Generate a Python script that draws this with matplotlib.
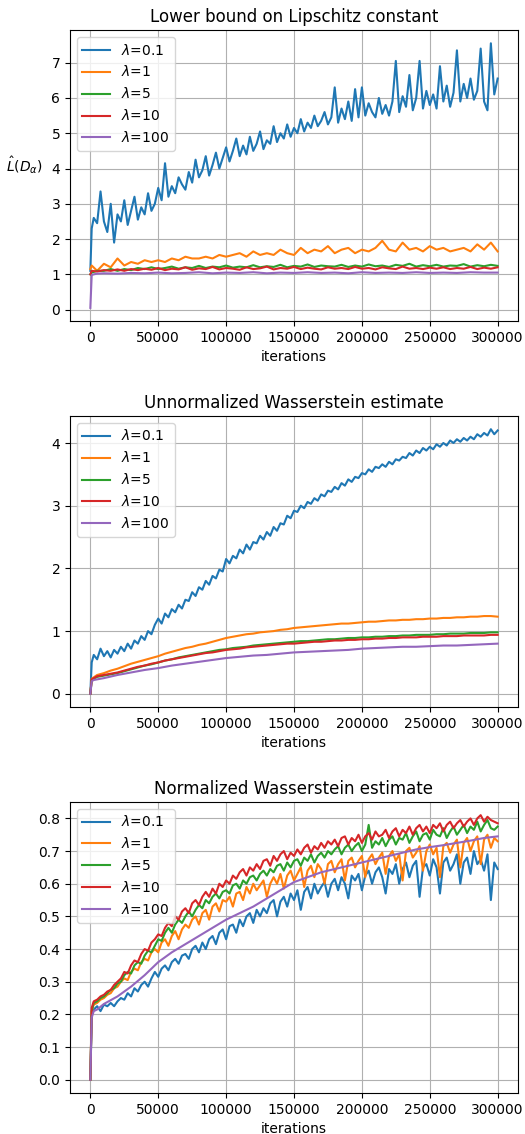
import numpy as np
import matplotlib
matplotlib.use("Agg")
import matplotlib.pyplot as plt

# iteration grids (x values)
it_fine = np.r_[0, 1000, np.arange(2500, 300001, 2500)]
it_mid = np.r_[0, 1000, np.arange(5000, 300001, 5000)]
it_coarse = np.r_[0, 1000, 2500, 5000, np.arange(10000, 300001, 10000)]

labels = [r'$\lambda$=0.1', r'$\lambda$=1', r'$\lambda$=5', r'$\lambda$=10', r'$\lambda$=100']

# --- Lower bound on Lipschitz constant ---
lip_01 = [1.1, 2.3, 2.6, 2.45, 3.35, 2.5, 2.2, 3.0, 1.9, 2.7,
          2.5, 3.1, 2.4, 2.8, 3.2, 2.55, 2.9, 2.7, 3.3, 2.8,
          3.0, 3.45, 3.1, 4.15, 3.2, 3.5, 3.3, 3.75, 3.55, 3.4,
          3.9, 3.6, 4.25, 3.75, 3.95, 4.35, 3.8, 4.1, 4.45, 4.0,
          4.3, 4.6, 4.2, 4.5, 4.85, 4.35, 4.65, 4.4, 4.9, 4.5,
          4.7, 5.05, 4.55, 4.8, 4.7, 5.2, 4.75, 5.0, 4.85, 5.25,
          4.9, 5.15, 5.0, 5.4, 5.05, 5.3, 5.15, 5.5, 5.2, 5.35,
          5.6, 5.25, 5.45, 6.3, 5.3, 5.7, 5.4, 5.9, 5.35, 6.25,
          5.45, 6.3, 5.5, 5.85, 5.6, 5.45, 6.0, 5.55, 5.8, 5.5,
          5.9, 7.05, 5.6, 6.05, 5.75, 6.65, 5.65, 6.0, 7.05, 5.7,
          6.2, 5.8, 6.1, 5.7, 6.9, 5.9, 6.35, 5.75, 6.15, 7.35,
          5.9, 6.4, 6.0, 6.55, 5.95, 6.2, 7.4, 5.9, 5.65, 7.55,
          6.1, 6.55]
lip_1 = [1.15, 1.25, 1.1, 1.3, 1.2, 1.45, 1.25, 1.35, 1.3, 1.4,
         1.35, 1.4, 1.35, 1.45, 1.4, 1.5, 1.45, 1.45, 1.5, 1.45,
         1.55, 1.5, 1.55, 1.6, 1.5, 1.65, 1.55, 1.6, 1.55, 1.7,
         1.6, 1.55, 1.75, 1.6, 1.7, 1.65, 1.8, 1.6, 1.7, 1.75,
         1.6, 1.7, 1.65, 1.75, 1.95, 1.7, 1.65, 1.9, 1.7, 1.75,
         1.65, 1.8, 1.7, 1.75, 1.65, 1.7, 1.75, 1.65, 1.85, 1.7,
         1.9, 1.65]
lip_5 = [1.0, 1.05, 1.1, 1.1, 1.15, 1.1, 1.15, 1.12, 1.18, 1.15,
         1.2, 1.15, 1.18, 1.22, 1.16, 1.2, 1.18, 1.24, 1.18, 1.22,
         1.2, 1.25, 1.19, 1.22, 1.2, 1.26, 1.2, 1.23, 1.21, 1.27,
         1.2, 1.24, 1.22, 1.28, 1.21, 1.25, 1.23, 1.22, 1.27, 1.21,
         1.25, 1.22, 1.28, 1.23, 1.25, 1.21, 1.27, 1.24, 1.3, 1.22,
         1.26, 1.23, 1.27, 1.22, 1.25, 1.24, 1.29, 1.22, 1.26, 1.23,
         1.27, 1.24]
lip_10 = [1.0, 1.1, 1.08, 1.12, 1.1, 1.14, 1.1, 1.15, 1.12, 1.16,
          1.13, 1.18, 1.12, 1.16, 1.14, 1.2, 1.13, 1.17, 1.15, 1.21,
          1.14, 1.18, 1.16, 1.13, 1.2, 1.15, 1.17, 1.22, 1.14, 1.18,
          1.16, 1.21, 1.15, 1.19, 1.16, 1.14, 1.2, 1.16, 1.18, 1.15,
          1.21, 1.16, 1.18, 1.14, 1.2, 1.17, 1.15, 1.22, 1.16, 1.18,
          1.15, 1.19, 1.16, 1.2, 1.15, 1.18, 1.16, 1.21, 1.15, 1.19,
          1.16, 1.2]
lip_100 = [0.05, 0.98, 1.0, 1.02, 1.03, 1.02, 1.04, 1.03, 1.05, 1.03,
           1.04, 1.06, 1.03, 1.05, 1.04, 1.06, 1.03, 1.05, 1.04, 1.06,
           1.04, 1.05, 1.03, 1.06, 1.04, 1.05, 1.04, 1.06, 1.04, 1.05,
           1.04, 1.06, 1.05, 1.05]

# --- Unnormalized Wasserstein estimate ---
wass_01 = [0.0, 0.5, 0.62, 0.55, 0.72, 0.6, 0.68, 0.58, 0.7, 0.64,
           0.75, 0.68, 0.8, 0.72, 0.85, 0.8, 0.92, 0.86, 1.0, 0.95,
           1.1, 1.2, 1.12, 1.28, 1.22, 1.35, 1.3, 1.42, 1.36, 1.5,
           1.48, 1.62, 1.56, 1.7, 1.66, 1.8, 1.74, 1.88, 1.84, 1.98,
           1.95, 2.15, 2.08, 2.2, 2.16, 2.3, 2.24, 2.38, 2.3, 2.42,
           2.4, 2.52, 2.46, 2.58, 2.52, 2.66, 2.6, 2.72, 2.7, 2.84,
           2.8, 2.92, 2.9, 3.0, 2.96, 3.06, 3.03, 3.12, 3.08, 3.18,
           3.15, 3.24, 3.22, 3.3, 3.26, 3.36, 3.32, 3.42, 3.38, 3.46,
           3.44, 3.52, 3.5, 3.58, 3.54, 3.62, 3.6, 3.66, 3.62, 3.7,
           3.66, 3.74, 3.72, 3.78, 3.76, 3.84, 3.8, 3.88, 3.84, 3.92,
           3.88, 3.94, 3.9, 3.98, 3.94, 4.0, 3.96, 4.04, 4.0, 4.06,
           4.02, 4.08, 4.04, 4.1, 4.06, 4.14, 4.1, 4.16, 4.12, 4.22,
           4.14, 4.2]
wass_1 = [0.0, 0.24, 0.3, 0.33, 0.37, 0.4, 0.44, 0.48, 0.51, 0.54,
          0.57, 0.6, 0.64, 0.67, 0.7, 0.73, 0.75, 0.78, 0.8, 0.83,
          0.86, 0.89, 0.91, 0.93, 0.95, 0.96, 0.98, 0.99, 1.0, 1.02,
          1.03, 1.05, 1.06, 1.07, 1.08, 1.09, 1.1, 1.11, 1.12, 1.12,
          1.13, 1.14, 1.15, 1.15, 1.16, 1.17, 1.17, 1.18, 1.18, 1.19,
          1.19, 1.2, 1.2, 1.21, 1.21, 1.22, 1.22, 1.23, 1.23, 1.24,
          1.24, 1.23]
wass_5 = [0.0, 0.22, 0.27, 0.29, 0.31, 0.33, 0.36, 0.39, 0.42, 0.45,
          0.47, 0.5, 0.53, 0.55, 0.58, 0.6, 0.62, 0.64, 0.66, 0.68,
          0.7, 0.71, 0.73, 0.74, 0.75, 0.77, 0.78, 0.79, 0.8, 0.81,
          0.82, 0.83, 0.84, 0.84, 0.85, 0.86, 0.87, 0.87, 0.88, 0.89,
          0.89, 0.9, 0.9, 0.91, 0.91, 0.92, 0.92, 0.93, 0.93, 0.94,
          0.94, 0.94, 0.95, 0.95, 0.96, 0.96, 0.96, 0.97, 0.97, 0.97,
          0.98, 0.98]
wass_10 = [0.0, 0.23, 0.28, 0.3, 0.32, 0.34, 0.37, 0.4, 0.43, 0.45,
           0.48, 0.5, 0.53, 0.55, 0.57, 0.59, 0.61, 0.63, 0.65, 0.66,
           0.68, 0.7, 0.71, 0.72, 0.74, 0.75, 0.76, 0.77, 0.78, 0.79,
           0.8, 0.8, 0.81, 0.82, 0.83, 0.83, 0.84, 0.85, 0.85, 0.86,
           0.86, 0.87, 0.87, 0.88, 0.88, 0.89, 0.89, 0.9, 0.9, 0.9,
           0.91, 0.91, 0.91, 0.92, 0.92, 0.92, 0.93, 0.93, 0.93, 0.93,
           0.94, 0.94]
wass_100 = [0.0, 0.2, 0.22, 0.23, 0.25, 0.3, 0.34, 0.38, 0.41, 0.45,
            0.48, 0.51, 0.54, 0.57, 0.59, 0.61, 0.62, 0.64, 0.66, 0.67,
            0.68, 0.69, 0.7, 0.72, 0.73, 0.74, 0.75, 0.75, 0.76, 0.77,
            0.77, 0.78, 0.79, 0.8]

# --- Normalized Wasserstein estimate ---
norm_01 = [0.0, 0.2, 0.215, 0.225, 0.21, 0.23, 0.225, 0.235, 0.225, 0.24,
           0.25, 0.245, 0.265, 0.255, 0.28, 0.27, 0.29, 0.3, 0.285, 0.31,
           0.33, 0.315, 0.34, 0.35, 0.335, 0.36, 0.37, 0.355, 0.38, 0.385,
           0.37, 0.4, 0.41, 0.39, 0.42, 0.4, 0.43, 0.44, 0.415, 0.45,
           0.46, 0.43, 0.47, 0.475, 0.45, 0.49, 0.47, 0.5, 0.51, 0.48,
           0.52, 0.5, 0.525, 0.51, 0.54, 0.55, 0.5, 0.545, 0.56, 0.53,
           0.57, 0.55, 0.58, 0.52, 0.575, 0.59, 0.555, 0.6, 0.57, 0.59,
           0.605, 0.56, 0.6, 0.615, 0.58, 0.62, 0.6, 0.555, 0.625, 0.61,
           0.63, 0.58, 0.625, 0.64, 0.6, 0.635, 0.65, 0.62, 0.57, 0.645,
           0.63, 0.66, 0.6, 0.645, 0.665, 0.62, 0.655, 0.67, 0.56, 0.65,
           0.66, 0.625, 0.675, 0.65, 0.57, 0.665, 0.68, 0.64, 0.66, 0.69,
           0.6, 0.665, 0.68, 0.63, 0.7, 0.66, 0.675, 0.64, 0.69, 0.55,
           0.665, 0.645]
norm_1 = [0.0, 0.21, 0.23, 0.235, 0.245, 0.25, 0.26, 0.265, 0.28, 0.285,
          0.3, 0.31, 0.305, 0.33, 0.34, 0.335, 0.36, 0.37, 0.365, 0.39,
          0.4, 0.39, 0.42, 0.43, 0.41, 0.44, 0.455, 0.43, 0.46, 0.475,
          0.465, 0.49, 0.5, 0.475, 0.51, 0.52, 0.49, 0.53, 0.54, 0.515,
          0.55, 0.545, 0.56, 0.53, 0.57, 0.575, 0.55, 0.59, 0.57, 0.6,
          0.58, 0.595, 0.61, 0.56, 0.6, 0.62, 0.6, 0.63, 0.585, 0.625,
          0.64, 0.61, 0.63, 0.65, 0.59, 0.64, 0.655, 0.62, 0.66, 0.645,
          0.6, 0.66, 0.67, 0.635, 0.66, 0.675, 0.61, 0.67, 0.68, 0.65,
          0.67, 0.685, 0.62, 0.675, 0.69, 0.66, 0.68, 0.695, 0.63, 0.685,
          0.7, 0.67, 0.69, 0.61, 0.7, 0.71, 0.68, 0.695, 0.715, 0.64,
          0.7, 0.72, 0.69, 0.71, 0.62, 0.715, 0.725, 0.695, 0.72, 0.735,
          0.65, 0.725, 0.74, 0.7, 0.73, 0.745, 0.66, 0.735, 0.75, 0.71,
          0.74, 0.73]
norm_5 = [0.0, 0.21, 0.235, 0.24, 0.25, 0.255, 0.265, 0.275, 0.28, 0.295,
          0.3, 0.32, 0.33, 0.325, 0.35, 0.36, 0.355, 0.38, 0.395, 0.39,
          0.41, 0.43, 0.425, 0.45, 0.465, 0.45, 0.475, 0.49, 0.48, 0.5,
          0.515, 0.5, 0.52, 0.535, 0.525, 0.55, 0.54, 0.56, 0.57, 0.555,
          0.575, 0.58, 0.57, 0.595, 0.6, 0.585, 0.61, 0.6, 0.62, 0.625,
          0.61, 0.63, 0.64, 0.625, 0.645, 0.635, 0.655, 0.66, 0.64, 0.665,
          0.65, 0.67, 0.675, 0.655, 0.68, 0.67, 0.69, 0.665, 0.685, 0.695,
          0.68, 0.7, 0.69, 0.705, 0.715, 0.69, 0.71, 0.72, 0.7, 0.715,
          0.725, 0.7, 0.72, 0.78, 0.71, 0.73, 0.72, 0.74, 0.715, 0.735,
          0.745, 0.72, 0.74, 0.735, 0.755, 0.725, 0.745, 0.76, 0.73, 0.75,
          0.755, 0.735, 0.765, 0.75, 0.745, 0.77, 0.74, 0.76, 0.775, 0.75,
          0.765, 0.78, 0.755, 0.775, 0.765, 0.79, 0.76, 0.78, 0.795, 0.77,
          0.765, 0.775]
norm_10 = [0.0, 0.22, 0.24, 0.245, 0.255, 0.26, 0.27, 0.275, 0.29, 0.3,
           0.31, 0.33, 0.325, 0.35, 0.365, 0.36, 0.385, 0.4, 0.395, 0.42,
           0.43, 0.445, 0.44, 0.465, 0.48, 0.47, 0.5, 0.49, 0.515, 0.525,
           0.51, 0.54, 0.55, 0.535, 0.56, 0.575, 0.56, 0.585, 0.57, 0.6,
           0.59, 0.61, 0.6, 0.625, 0.615, 0.635, 0.645, 0.625, 0.65, 0.64,
           0.66, 0.645, 0.67, 0.675, 0.655, 0.685, 0.67, 0.69, 0.7, 0.675,
           0.695, 0.685, 0.705, 0.69, 0.71, 0.72, 0.695, 0.715, 0.705, 0.725,
           0.71, 0.73, 0.72, 0.735, 0.715, 0.74, 0.745, 0.72, 0.74, 0.73,
           0.75, 0.725, 0.745, 0.755, 0.735, 0.76, 0.745, 0.75, 0.765, 0.74,
           0.76, 0.77, 0.745, 0.765, 0.755, 0.775, 0.75, 0.77, 0.78, 0.76,
           0.775, 0.755, 0.78, 0.77, 0.785, 0.76, 0.78, 0.79, 0.77, 0.785,
           0.795, 0.775, 0.79, 0.8, 0.78, 0.8, 0.81, 0.79, 0.805, 0.795,
           0.79, 0.785]
norm_100 = [0.0, 0.19, 0.21, 0.215, 0.232, 0.255, 0.285, 0.32, 0.36, 0.39,
            0.415, 0.44, 0.465, 0.49, 0.51, 0.53, 0.555, 0.58, 0.605, 0.62,
            0.635, 0.645, 0.655, 0.665, 0.675, 0.685, 0.695, 0.705, 0.712, 0.718,
            0.725, 0.732, 0.74, 0.745]

fig, axes = plt.subplots(3, 1, figsize=(5.25, 11.34), dpi=100)
fig.subplots_adjust(left=0.1333, right=0.9867, top=0.9735, bottom=0.0362, hspace=0.326)

panels = [
    ('Lower bound on Lipschitz constant',
     [(it_fine, lip_01), (it_mid, lip_1), (it_mid, lip_5), (it_mid, lip_10), (it_coarse, lip_100)]),
    ('Unnormalized Wasserstein estimate',
     [(it_fine, wass_01), (it_mid, wass_1), (it_mid, wass_5), (it_mid, wass_10), (it_coarse, wass_100)]),
    ('Normalized Wasserstein estimate',
     [(it_fine, norm_01), (it_fine, norm_1), (it_fine, norm_5), (it_fine, norm_10), (it_coarse, norm_100)]),
]

for ax, (title, series) in zip(axes, panels):
    for (x, y), lab in zip(series, labels):
        ax.plot(x, y, label=lab)
    ax.set_title(title)
    ax.set_xlabel('iterations')
    ax.set_xticks([0, 50000, 100000, 150000, 200000, 250000, 300000])
    ax.grid(True)
    ax.legend(loc='upper left')

axes[0].set_ylabel(r'$\hat{L}(D_\alpha)$', rotation=0, ha='right', va='bottom')
axes[0].yaxis.set_label_coords(-0.06, 0.5)

fig.savefig('out.png', dpi=100)
